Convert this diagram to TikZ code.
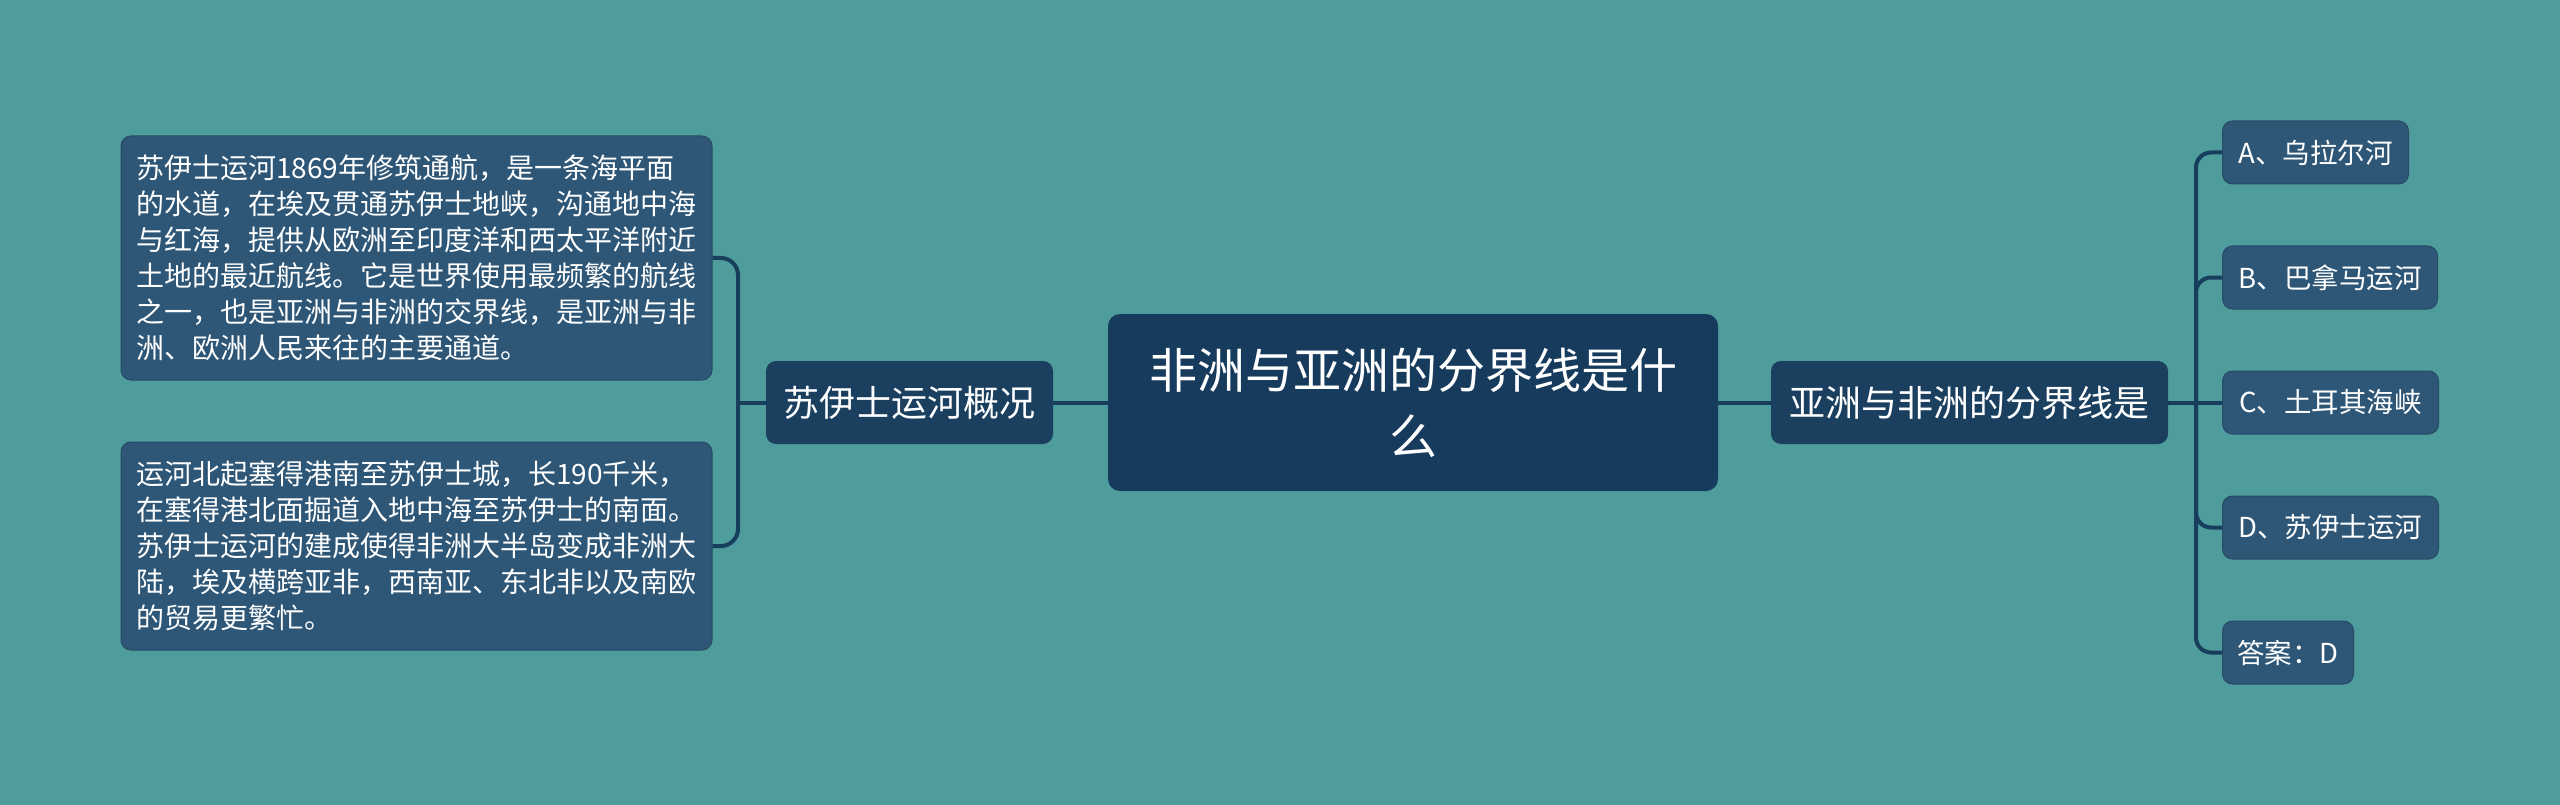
\documentclass[tikz,border=0pt]{standalone}
\usepackage{fontspec}
\setmainfont{Noto Sans CJK SC}
\definecolor{bg}{HTML}{4E9C9C}
\definecolor{leaf}{HTML}{2E5777}
\definecolor{mid}{HTML}{1A3F5F}
\definecolor{ctr}{HTML}{173B5C}
\definecolor{ln}{HTML}{183E5E}
\tikzset{
  box/.style={rectangle, rounded corners=10pt, inner sep=0pt, text=white, align=center},
  leafbox/.style={box, fill=leaf, draw=leaf!85!black, line width=1pt, minimum height=63pt, font=\fontsize{27.5}{32}\selectfont},
  midbox/.style={box, fill=mid, minimum height=83pt, font=\fontsize{36}{42}\selectfont},
  ctrbox/.style={box, fill=ctr, rounded corners=12pt, minimum width=610pt, minimum height=177pt, font=\fontsize{48}{66}\selectfont},
  textbox/.style={box, fill=leaf, draw=leaf!85!black, line width=1pt, align=left, text width=561pt, inner xsep=15pt, minimum width=591pt, font=\fontsize{28}{36}\selectfont},
  conn/.style={draw=ln, line width=4pt}
}
\begin{document}
\begin{tikzpicture}[x=1pt,y=-1pt]
\fill[bg] (0,0) rectangle (2560,805);
\useasboundingbox (0,0) rectangle (2560,805);

\node[textbox, minimum height=244pt] (L1) at (416.5,258) {苏伊士运河1869年修筑通航，是一条海平面\\的水道，在埃及贯通苏伊士地峡，沟通地中海\\与红海，提供从欧洲至印度洋和西太平洋附近\\土地的最近航线。它是世界使用最频繁的航线\\之一，也是亚洲与非洲的交界线，是亚洲与非\\洲、欧洲人民来往的主要通道。};
\node[textbox, minimum height=208pt] (L2) at (416.5,546) {运河北起塞得港南至苏伊士城，长190千米，\\在塞得港北面掘道入地中海至苏伊士的南面。\\苏伊士运河的建成使得非洲大半岛变成非洲大\\陆，埃及横跨亚非，西南亚、东北非以及南欧\\的贸易更繁忙。};

\node[midbox, minimum width=287pt] (sub) at (909.5,402.5) {苏伊士运河概况};
\node[ctrbox] (ctr) at (1413,402.5) {非洲与亚洲的分界线是什\\么};
\node[midbox, minimum width=397pt] (q) at (1969.5,402.5) {亚洲与非洲的分界线是};

\node[leafbox, minimum width=186pt, anchor=west] (A) at (2222,152.5) {A、乌拉尔河};
\node[leafbox, minimum width=215pt, anchor=west] (B) at (2222,277.5) {B、巴拿马运河};
\node[leafbox, minimum width=216pt, anchor=west] (C) at (2222,402.5) {C、土耳其海峡};
\node[leafbox, minimum width=216pt, anchor=west] (D) at (2222,527.5) {D、苏伊士运河};
\node[leafbox, minimum width=131pt, anchor=west] (E) at (2222,652.5) {答案：D};

\coordinate (lb) at (738,402.5);
\coordinate (rb) at (2196,402.5);

\draw[conn, rounded corners=17pt] (L1.east) -| (lb) |- (L2.east);
\draw[conn] (sub.west) -- (lb);
\draw[conn] (sub.east) -- (ctr.west);
\draw[conn] (ctr.east) -- (q.west);
\draw[conn] (q.east) -- (C.west);
\draw[conn, rounded corners=15pt] (rb) |- (A.west);
\draw[conn, rounded corners=15pt] (rb) |- (B.west);
\draw[conn, rounded corners=15pt] (rb) |- (D.west);
\draw[conn, rounded corners=15pt] (rb) |- (E.west);
\end{tikzpicture}
\end{document}
